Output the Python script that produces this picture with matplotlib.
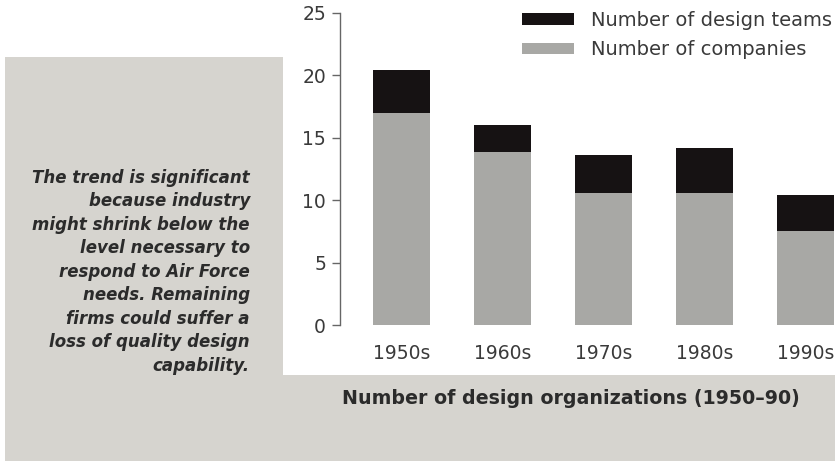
import matplotlib
matplotlib.use("Agg")
import matplotlib.pyplot as plt
from matplotlib.patches import Rectangle, Patch

# Values
decades = ['1950s', '1960s', '1970s', '1980s', '1990s']
companies = [17.0, 13.9, 10.6, 10.6, 7.5]
design_teams = [20.4, 16.0, 13.6, 14.2, 10.4]
y_ticks = [0, 5, 10, 15, 20, 25]

note = ("The trend is significant\n"
        "because industry\n"
        "might shrink below the\n"
        "level necessary to\n"
        "respond to Air Force\n"
        "needs. Remaining\n"
        "firms could suffer a\n"
        "loss of quality design\n"
        "capability.")
caption = "Number of design organizations (1950\u201390)"

plt.rcParams['font.family'] = ['DejaVu Sans']

W, H = 835, 461
fig = plt.figure(figsize=(W / 100, H / 100), dpi=100)
fig.patch.set_facecolor('white')

# Gray background panel and the white box the chart sits in
fig.patches.append(Rectangle((5 / W, 0), 830 / W, (H - 57) / H, transform=fig.transFigure,
                             facecolor='#d6d4cf', edgecolor='none', zorder=-2))
fig.patches.append(Rectangle((283 / W, (H - 375) / H), (W - 283) / W, 375 / H,
                             transform=fig.transFigure, facecolor='white', edgecolor='none', zorder=-1))

ax = fig.add_axes([340 / W, (H - 325) / H, (W - 340) / W, 312 / H])
ax.set_facecolor('none')
ax.set_zorder(1)

x = list(range(len(decades)))
teams_extra = [t - c for t, c in zip(design_teams, companies)]
gray = '#a8a8a5'
black = '#161213'
ax.bar(x, companies, width=0.565, color=gray, label='Number of companies')
ax.bar(x, teams_extra, bottom=companies, width=0.565, color=black, label='Number of design teams')

ax.set_ylim(0, 25)
ax.set_xlim(-0.61, 4.29)
ax.set_yticks(y_ticks)
ax.set_xticks(x)
ax.set_xticklabels(decades)

for s in ['top', 'right', 'bottom']:
    ax.spines[s].set_visible(False)
ax.spines['left'].set_color('#666666')
ax.spines['left'].set_linewidth(1.0)
ax.tick_params(axis='y', length=6, width=1, color='#666666', pad=4,
               labelsize=13.5, labelcolor='#3a3a3a')
ax.tick_params(axis='x', length=0, pad=14, labelsize=13.5, labelcolor='#3a3a3a')

handles = [Patch(facecolor=black, edgecolor='none'), Patch(facecolor=gray, edgecolor='none')]
ax.legend(handles, ['Number of design teams', 'Number of companies'],
          loc='upper left', bbox_to_anchor=(514 / W, 1 - 3 / H), bbox_transform=fig.transFigure,
          frameon=False, fontsize=14, labelcolor='#3a3a3a', handlelength=2.7, handleheight=0.55,
          handletextpad=0.85, labelspacing=0.55, borderaxespad=0)

fig.text(250 / W, 1 - 169 / H, note, ha='right', va='top', fontsize=12,
         fontweight='bold', fontstyle='italic', color='#2b2b2b', linespacing=1.39)
fig.text(571 / W, 1 - 399 / H, caption, ha='center', va='center', fontsize=13.7,
         fontweight='bold', color='#2b2b2b')

fig.savefig('out.png', dpi=100)
